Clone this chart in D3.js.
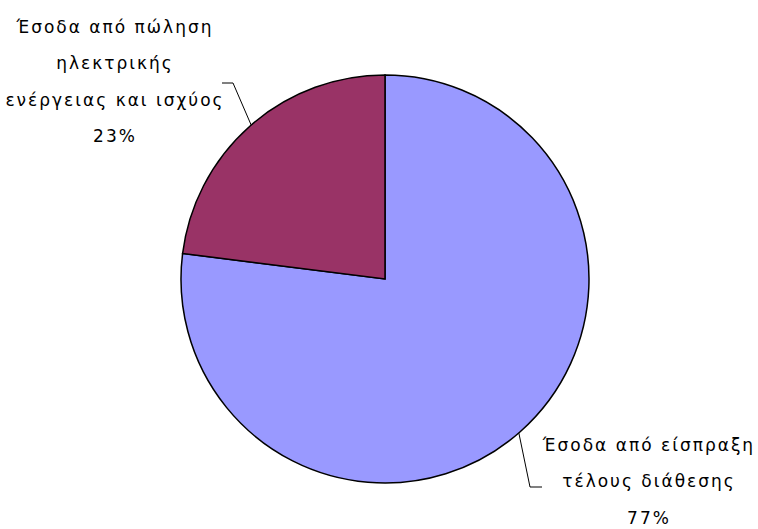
<!DOCTYPE html>
<html>
<head>
<meta charset="utf-8">
<script src="https://cdn.jsdelivr.net/npm/d3@7"></script>
<style>
  html, body { margin: 0; padding: 0; background: #ffffff; }
  svg text { font-family: "DejaVu Sans", sans-serif; font-size: 17px; letter-spacing: 2px; fill: #000; }
</style>
</head>
<body>
<svg id="chart" width="758" height="529"></svg>
<script>
// Revenue breakdown
const categories = [
  "Έσοδα από είσπραξη τέλους διάθεσης",
  "Έσοδα από πώληση ηλεκτρικής ενέργειας και ισχύος"
];
const values = [77, 23];
const colors = ["#9999FF", "#993366"];
const labelLines = [
  ["Έσοδα από είσπραξη", "τέλους διάθεσης"],
  ["Έσοδα από πώληση", "ηλεκτρικής", "ενέργειας και ισχύος"]
];

const svg = d3.select("#chart");
const cx = 385, cy = 279, r = 204;

const pie = d3.pie().sort(null).value(d => d)(values);
const arc = d3.arc().innerRadius(0).outerRadius(r);

const g = svg.append("g").attr("transform", `translate(${cx},${cy})`);
g.selectAll("path.slice")
  .data(pie)
  .join("path")
  .attr("class", "slice")
  .attr("d", arc)
  .attr("fill", (d, i) => colors[i])
  .attr("stroke", "#000")
  .attr("stroke-width", 1.5)
  .attr("stroke-linejoin", "miter");

// Leader lines: rim angle (degrees, clockwise from top), elbow, end; text block centre
const labelLayout = [
  { rimDeg: 139, elbow: [530, 487], end: [542, 487], tx: 649, ty: 445 },
  { rimDeg: 319, elbow: [233, 83], end: [222, 83], tx: 115, ty: 27 }
];

const lineH = 36.5;
labelLayout.forEach((L, i) => {
  const ang = L.rimDeg * Math.PI / 180;
  const rx = cx + r * Math.sin(ang), ry = cy - r * Math.cos(ang);
  svg.append("polyline")
    .attr("points", [[rx, ry], L.elbow, L.end].map(p => p.join(",")).join(" "))
    .attr("fill", "none")
    .attr("stroke", "#000")
    .attr("stroke-width", 1);
  const lines = labelLines[i].concat([d3.format(".0%")(values[i] / d3.sum(values))]);
  const t = svg.append("text").attr("text-anchor", "middle");
  lines.forEach((s, k) => {
    t.append("tspan")
      .attr("x", L.tx)
      .attr("y", L.ty + k * lineH)
      .attr("dy", "0.35em")
      .text(s);
  });
});
</script>
</body>
</html>
